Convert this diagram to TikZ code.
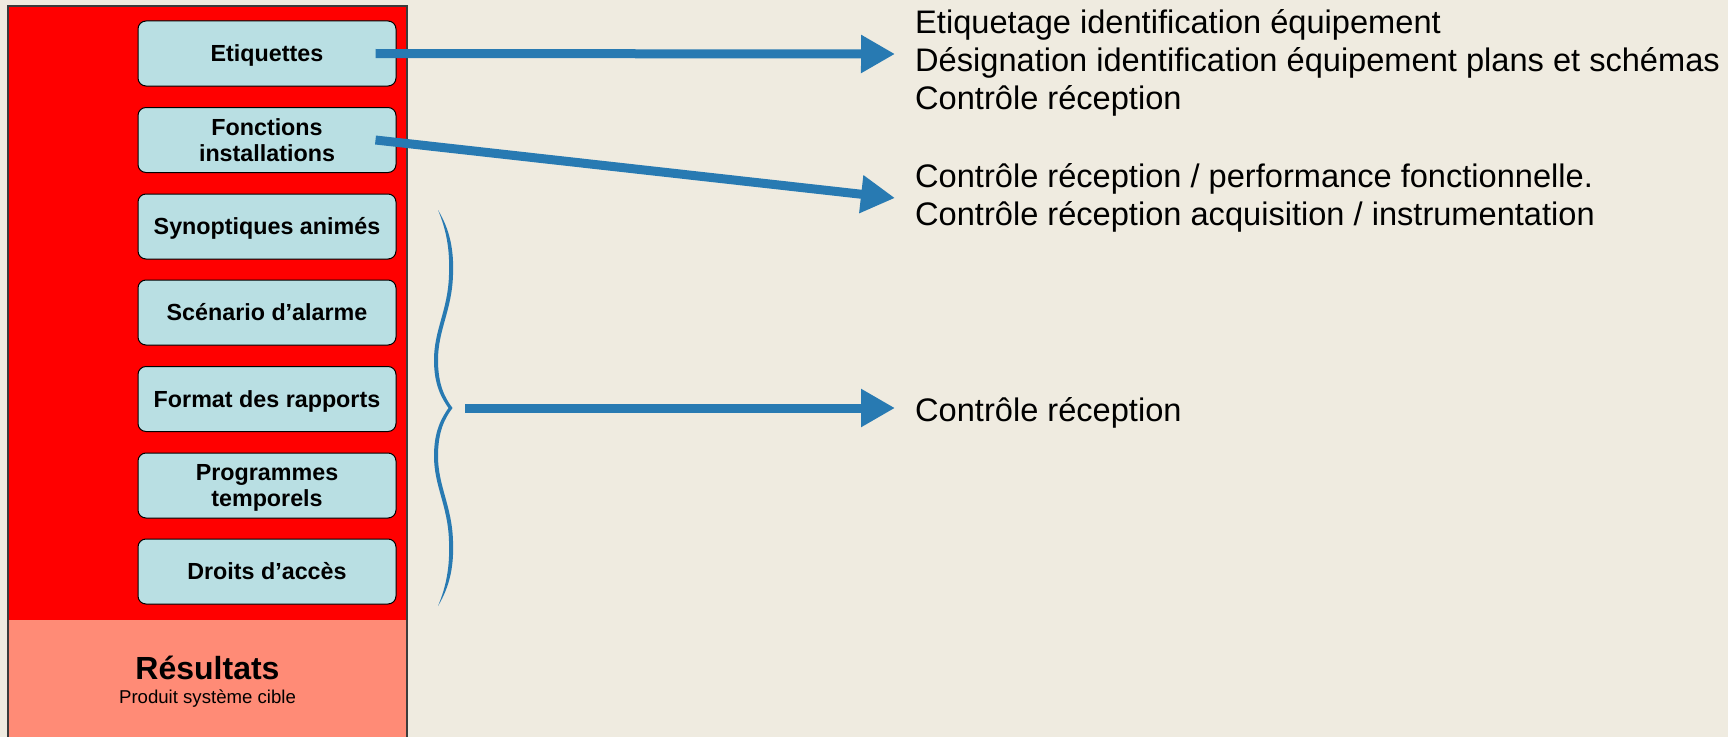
\documentclass[tikz,border=0pt]{standalone}
\usepackage{fontspec}
\setmainfont{Liberation Sans}
\usetikzlibrary{arrows.meta,shapes.misc}
\definecolor{pagebg}{RGB}{239,235,224}
\definecolor{panelred}{RGB}{255,0,0}
\definecolor{panelsalmon}{RGB}{255,139,118}
\definecolor{boxcyan}{RGB}{185,223,227}
\definecolor{flowblue}{RGB}{40,122,178}
\definecolor{edgegray}{RGB}{60,60,60}
\tikzset{
  itembox/.style={rectangle, rounded corners=8bp, draw=black, line width=1bp,
    fill=boxcyan, minimum width=258bp, minimum height=65bp, inner sep=0pt},
  boxtext/.style={inner sep=0pt, anchor=center, text height=16.7bp, text depth=0pt,
    font=\fontsize{23.3bp}{27bp}\selectfont\bfseries},
  flow/.style={draw=flowblue, line width=9bp,
    -{Triangle[length=34bp,width=36bp]}},
  outtext/.style={anchor=base west, inner sep=0pt,
    font=\fontsize{32.6bp}{38bp}\selectfont}
}
\begin{document}
\begin{tikzpicture}[x=1bp,y=-1bp]
\useasboundingbox (0,0) rectangle (1728,737);
\fill[pagebg] (0,0) rectangle (1728,737);

% left panel: red upper part, salmon results part
\fill[panelred] (8,6) rectangle (407,620);
\fill[panelsalmon] (8,620) rectangle (407,740);
\draw[edgegray, line width=1.2bp] (8,740) -- (8,6) -- (407,6) -- (407,740);

% items of the panel
\node[itembox] (e1) at (267,53.5) {};
\node[itembox] (e2) at (267,140) {};
\node[itembox] (e3) at (267,226.5) {};
\node[itembox] (e4) at (267,312.5) {};
\node[itembox] (e5) at (267,399) {};
\node[itembox] (e6) at (267,485.5) {};
\node[itembox] (e7) at (267,571.5) {};

\node[boxtext] (l1) at (e1.center) {Etiquettes};
\node[boxtext] (l2a) at ([yshift=13bp]e2.center) {Fonctions};
\node[boxtext] (l2b) at ([yshift=-13bp]e2.center) {installations};
\node[boxtext] (l3) at (e3.center) {Synoptiques animés};
\node[boxtext] (l4) at (e4.center) {Scénario d’alarme};
\node[boxtext] (l5) at (e5.center) {Format des rapports};
\node[boxtext] (l6a) at ([yshift=13bp]e6.center) {Programmes};
\node[boxtext] (l6b) at ([yshift=-13bp]e6.center) {temporels};
\node[boxtext] (l7) at (e7.center) {Droits d’accès};

\node[font=\fontsize{32bp}{36bp}\selectfont\bfseries] (res) at (207.5,668) {Résultats};
\node[font=\fontsize{18.6bp}{22bp}\selectfont] (prod) at (207.5,699) {Produit système cible};

% outputs
\node[outtext] (t1a) at (915,33.5) {Etiquetage identification équipement};
\node[outtext] (t1b) at (915,71.5) {Désignation identification équipement plans et schémas};
\node[outtext] (t1c) at (915,109.5) {Contrôle réception};
\node[outtext] (t2a) at (915,187.5) {Contrôle réception / performance fonctionnelle.};
\node[outtext] (t2b) at (915,225.5) {Contrôle réception acquisition / instrumentation};
\node[outtext] (t3) at (915,421.5) {Contrôle réception};

% brace grouping the lower five items
\fill[flowblue]
  (438,210)
  .. controls (450,230) and (454,250) .. (453,275)
  .. controls (452,310) and (438,330) .. (438,360)
  .. controls (438,385) and (445,398) .. (452.5,408)
  .. controls (445,418) and (438,431) .. (438,456)
  .. controls (438,486) and (452,506) .. (453,541)
  .. controls (454,566) and (450,586) .. (438,606)
  .. controls (446.5,586) and (450,566) .. (449,541)
  .. controls (448,506) and (434,486) .. (434,456)
  .. controls (434,431) and (441.5,418) .. (448.5,408)
  .. controls (441.5,398) and (434,385) .. (434,360)
  .. controls (434,330) and (448,310) .. (449,275)
  .. controls (450,250) and (446.5,230) .. (438,210) -- cycle;
\coordinate (bracetip) at (452,408);

% arrow ends
\coordinate (h1) at (895,54);
\coordinate (h2) at (895,198);
\coordinate (h3) at (895,408);

\draw[flow] ([xshift=-21bp]e1.east) -- (h1);
\draw[flow] ([xshift=-21bp]e2.east) -- (h2);
\draw[flow] ([xshift=13bp]bracetip) -- (h3);
\end{tikzpicture}
\end{document}
